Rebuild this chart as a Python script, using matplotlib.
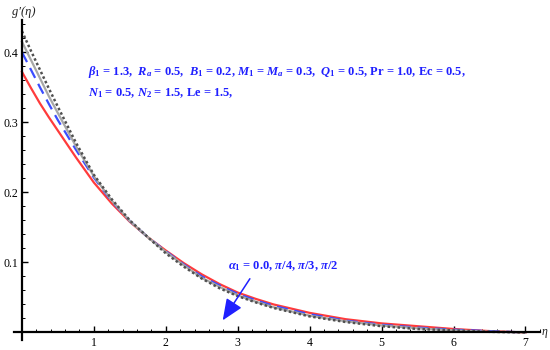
import matplotlib
matplotlib.use("Agg")
import matplotlib.pyplot as plt
from matplotlib.ticker import MultipleLocator, FixedLocator

plt.rcParams['mathtext.fontset'] = 'custom'
plt.rcParams['mathtext.rm'] = 'Liberation Serif:bold'
plt.rcParams['mathtext.it'] = 'Liberation Serif:bold:italic'
plt.rcParams['mathtext.bf'] = 'Liberation Serif:bold'
plt.rcParams['font.family'] = ['Liberation Serif', 'DejaVu Serif']

eta = [0, 0.125, 0.25, 0.375, 0.5, 0.75, 1, 1.25, 1.5, 1.75, 2, 2.25, 2.5, 2.75, 3, 3.25, 3.5, 3.75, 4, 4.5, 5, 5.5, 6, 6.5, 7]
g_a0 = [0.372, 0.349, 0.327, 0.307, 0.288, 0.250, 0.214, 0.184, 0.158, 0.136, 0.117, 0.099, 0.083, 0.069, 0.057, 0.048, 0.040, 0.034, 0.028, 0.019, 0.013, 0.009, 0.005, 0.002, 0.0]
g_pi4 = [0.400, 0.375, 0.350, 0.326, 0.303, 0.261, 0.221, 0.187, 0.159, 0.136, 0.116, 0.097, 0.080, 0.067, 0.055, 0.046, 0.038, 0.032, 0.026, 0.017, 0.011, 0.007, 0.004, 0.002, 0.0]
g_pi3 = [0.415, 0.389, 0.363, 0.337, 0.313, 0.266, 0.223, 0.188, 0.159, 0.136, 0.115, 0.096, 0.078, 0.065, 0.053, 0.044, 0.036, 0.030, 0.024, 0.016, 0.010, 0.006, 0.003, 0.001, 0.0]
g_pi2 = [0.430, 0.402, 0.375, 0.348, 0.322, 0.271, 0.225, 0.190, 0.160, 0.136, 0.113, 0.094, 0.077, 0.063, 0.052, 0.043, 0.035, 0.029, 0.023, 0.015, 0.009, 0.005, 0.003, 0.001, 0.0]

x_ticks = [1, 2, 3, 4, 5, 6, 7]
y_ticks = [0.1, 0.2, 0.3, 0.4]

fig = plt.figure(figsize=(5.5, 3.5), dpi=100)
ax = fig.add_axes([0.0255, 0.028, 0.956, 0.915])
ax.set_xlim(-0.11, 7.2)
ax.set_ylim(-0.011, 0.446)

ax.plot(eta, g_a0, color='#ff3b3b', lw=1.6)
ax.plot(eta, g_pi4, color='#3a4cff', lw=1.6, dashes=(5, 3))
ax.plot(eta, g_pi3, color='#a8a8a8', lw=1.6)
ax.plot(eta, g_pi2, color='#505050', lw=1.8, dashes=(1, 1))

for s in ['top', 'right']:
    ax.spines[s].set_visible(False)
ax.spines['left'].set_position(('data', 0))
ax.spines['bottom'].set_position(('data', 0))
ax.spines['left'].set_linewidth(1.6)
ax.spines['bottom'].set_linewidth(1.6)

ax.xaxis.set_major_locator(FixedLocator(x_ticks))
ax.yaxis.set_major_locator(FixedLocator(y_ticks))
ax.xaxis.set_minor_locator(MultipleLocator(0.2))
ax.yaxis.set_minor_locator(MultipleLocator(0.02))
ax.set_xticklabels([str(t) for t in x_ticks])
ax.set_yticklabels([f"{t:.1f}" for t in y_ticks])
ax.tick_params(axis='both', which='major', direction='in', length=4, width=1, labelsize=8.5, pad=3)
ax.tick_params(axis='both', which='minor', direction='in', length=2, width=0.7)

ax.text(0.02, 0.457, "g\u2032(\u03b7)", ha='center', va='center', fontsize=9,
        fontstyle='italic', color='#222222', clip_on=False)
ax.text(7.23, 0.0, "\u03b7", ha='left', va='center', fontsize=8.5, fontstyle='italic',
        color='#222222', clip_on=False)

blue = '#2020ff'
ax.text(0.92, 0.372, r"$\beta_1$ = 1.3,  $R_a$ = 0.5,  $B_1$ = 0.2, $M_1$ = $M_a$ = 0.3,  $Q_1$ = 0.5, Pr = 1.0, Ec = 0.5,",
        fontsize=9, fontweight='bold', color=blue, ha='left', va='center')
ax.text(0.92, 0.342, r"$N_1$ = 0.5, $N_2$ = 1.5, Le = 1.5,",
        fontsize=9, fontweight='bold', color=blue, ha='left', va='center')

ax.text(2.87, 0.094, r"$\alpha_1$ = 0.0, $\pi$/4, $\pi$/3, $\pi$/2",
        fontsize=9, fontweight='bold', color=blue, ha='left', va='center')
ax.annotate('', xy=(2.77, 0.014), xytext=(3.19, 0.080),
            arrowprops=dict(arrowstyle='-|>,head_length=1.3,head_width=0.55', color=blue, lw=1.1))

fig.savefig('out.png', dpi=100)
